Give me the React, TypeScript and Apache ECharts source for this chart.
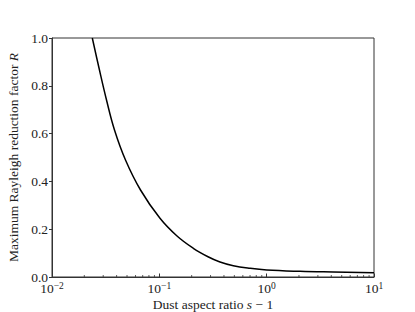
import React, { useEffect, useRef } from "react";
import * as echarts from "echarts";

const xValues = [0.02374, 0.02741, 0.0322, 0.03822, 0.04839, 0.06679, 0.1014, 0.1461, 0.2073, 0.2841, 0.3675, 0.4888, 0.6995, 1.001, 2.046, 4.15, 10];
const rValues = [1.0, 0.8745, 0.7406, 0.6151, 0.4895, 0.364, 0.2456, 0.1715, 0.1201, 0.0849, 0.0628, 0.0473, 0.0364, 0.0293, 0.0238, 0.0209, 0.018];
const yTicks = [0, 0.2, 0.4, 0.6, 0.8, 1.0];
const minorTicks = [
  0.02, 0.03, 0.04, 0.05, 0.06, 0.07, 0.08, 0.09,
  0.2, 0.3, 0.4, 0.5, 0.6, 0.7, 0.8, 0.9,
  2, 3, 4, 5, 6, 7, 8, 9,
];

const FONT = "Liberation Serif";
const AXIS_COLOR = "#333";

export default function App() {
  const ref = useRef<HTMLDivElement>(null);
  useEffect(() => {
    if (!ref.current) return;
    const chart = echarts.init(ref.current, undefined, { renderer: "svg" });
    chart.setOption({
      animation: false,
      backgroundColor: "#fff",
      textStyle: { fontFamily: FONT },
      grid: {
        left: 52, right: 41, top: 38, bottom: 35,
        outerBoundsMode: "none",
        containLabel: false,
        show: true, borderColor: AXIS_COLOR, borderWidth: 1, backgroundColor: "transparent",
      },
      xAxis: {
        type: "log",
        logBase: 10,
        min: 0.01,
        max: 10,
        name: "{n|Dust aspect ratio }{i|s}{n| − 1}",
        nameLocation: "middle",
        nameGap: 20,
        nameMoveOverlap: false,
        nameTextStyle: {
          rich: {
            n: { fontFamily: FONT, fontSize: 13.5, color: "#222" },
            i: { fontFamily: FONT, fontSize: 13.5, fontStyle: "italic", color: "#222" },
          },
        },
        axisLine: { show: true, onZero: false, lineStyle: { color: AXIS_COLOR, width: 1 } },
        axisTick: { show: true, inside: true, length: 3.5, lineStyle: { color: AXIS_COLOR } },
        minorTick: { show: false },
        splitLine: { show: false },
        axisLabel: {
          margin: 4,
          formatter: (v: number) => {
            const e = Math.round(Math.log10(v));
            const es = e < 0 ? "−" + -e : String(e);
            return "{b|10}{e|" + es + "}";
          },
          rich: {
            b: { fontFamily: FONT, fontSize: 13.5, color: "#222", lineHeight: 14, verticalAlign: "bottom" },
            e: { fontFamily: FONT, fontSize: 9.5, color: "#222", verticalAlign: "top", lineHeight: 9 },
          },
        },
      },
      yAxis: {
        type: "value",
        min: 0,
        max: 1,
        interval: 0.2,
        name: "{n|Maximum Rayleigh reduction factor }{i|R}",
        nameLocation: "middle",
        nameGap: 32,
        nameMoveOverlap: false,
        nameTextStyle: {
          rich: {
            n: { fontFamily: FONT, fontSize: 13.5, color: "#222" },
            i: { fontFamily: FONT, fontSize: 13.5, fontStyle: "italic", color: "#222" },
          },
        },
        axisLine: { show: true, lineStyle: { color: AXIS_COLOR, width: 1 } },
        axisTick: { show: true, inside: false, length: 3, lineStyle: { color: AXIS_COLOR } },
        splitLine: { show: false },
        axisLabel: {
          margin: 4,
          fontFamily: FONT,
          fontSize: 13.5,
          lineHeight: 10,
          color: "#222",
          formatter: (v: number) => (yTicks.includes(Math.round(v * 10) / 10) ? v.toFixed(1) : ""),
        },
      },
      series: [
        {
          type: "line",
          data: xValues.map((x, i) => [x, rValues[i]]),
          smooth: 0.4,
          showSymbol: false,
          lineStyle: { color: "#000", width: 1.5 },
          clip: true,
          z: 3,
        },
        {
          type: "custom",
          data: minorTicks.map((v) => [v, 0]),
          renderItem: (params: any, api: any) => {
            const p = api.coord([api.value(0), 0]);
            return {
              type: "line",
              shape: { x1: p[0], y1: p[1], x2: p[0], y2: p[1] - 2 },
              style: { stroke: AXIS_COLOR, lineWidth: 0.8 },
            };
          },
          silent: true,
          z: 4,
        },
      ],
    });
    return () => chart.dispose();
  }, []);
  return <div ref={ref} style={{ position: "fixed", left: 0, top: 0, width: 415, height: 312 }} />;
}
